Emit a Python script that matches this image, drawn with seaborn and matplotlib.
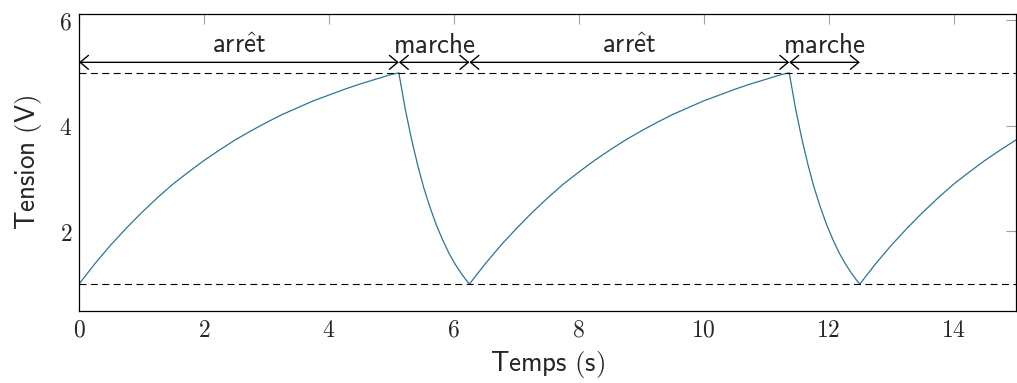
import matplotlib
matplotlib.use("Agg")
import matplotlib.pyplot as plt
import seaborn as sns

# valeurs (temps en s, tension en V)
temps_1 = [0.00, 0.25, 0.50, 0.75, 1.00, 1.25, 1.50, 1.75, 2.00, 2.25, 2.50,
           2.75, 3.00, 3.25, 3.50, 3.75, 4.00, 4.25, 4.50, 4.75, 5.00, 5.12,
           5.22, 5.32, 5.42, 5.52, 5.62, 5.72, 5.82, 5.92, 6.02, 6.12, 6.22, 6.25]
tension_1 = [1.00, 1.38, 1.73, 2.05, 2.35, 2.63, 2.89, 3.12, 3.34, 3.54, 3.73,
             3.90, 4.06, 4.21, 4.34, 4.47, 4.58, 4.69, 4.79, 4.88, 4.97, 5.00,
             4.33, 3.76, 3.26, 2.82, 2.45, 2.12, 1.84, 1.59, 1.38, 1.20, 1.04, 1.00]

temps_2 = [6.25, 6.50, 6.75, 7.00, 7.25, 7.50, 7.75, 8.00, 8.25, 8.50, 8.75,
           9.00, 9.25, 9.50, 9.75, 10.00, 10.25, 10.50, 10.75, 11.00, 11.25, 11.37,
           11.47, 11.57, 11.67, 11.77, 11.87, 11.97, 12.07, 12.17, 12.27, 12.37, 12.47, 12.50]
tension_2 = [1.00, 1.38, 1.73, 2.05, 2.35, 2.63, 2.89, 3.12, 3.34, 3.54, 3.73,
             3.90, 4.06, 4.21, 4.34, 4.47, 4.58, 4.69, 4.79, 4.88, 4.97, 5.00,
             4.33, 3.76, 3.26, 2.82, 2.45, 2.12, 1.84, 1.59, 1.38, 1.20, 1.04, 1.00]

temps_3 = [12.50, 12.75, 13.00, 13.25, 13.50, 13.75, 14.00, 14.25, 14.50, 14.75, 15.00]
tension_3 = [1.00, 1.38, 1.73, 2.05, 2.35, 2.63, 2.89, 3.12, 3.34, 3.54, 3.73]

seuils = [1, 5]
phases = ["arrêt", "marche", "arrêt", "marche"]
bornes = [0, 5.12, 6.25, 11.37, 12.50]
y_fleche = 5.2

xticks = [0, 2, 4, 6, 8, 10, 12, 14]
yticks = [2, 4, 6]

sns.set_style("white")
plt.rcParams["mathtext.fontset"] = "cm"
plt.rcParams["lines.scale_dashes"] = False

couleur = "#2b7597"
fs = 17     # graduations
fs_txt = 19.5  # textes sans serif

fig = plt.figure(figsize=(10.17, 3.83), dpi=100)
ax = fig.add_axes([0.0777, 0.188, 0.9213, 0.7747])

for t, v in [(temps_1, tension_1), (temps_2, tension_2), (temps_3, tension_3)]:
    sns.lineplot(x=t, y=v, ax=ax, color=couleur, lw=0.9, estimator=None, sort=False)

for s in seuils:
    ax.axhline(s, color="black", lw=0.8, dashes=(5, 3.2))

for i, nom in enumerate(phases):
    a, b = bornes[i], bornes[i + 1]
    ax.annotate("", xy=(b, y_fleche), xytext=(a, y_fleche),
                arrowprops=dict(arrowstyle="<->,head_length=0.3,head_width=0.25",
                                color="black", lw=1.0, shrinkA=0, shrinkB=0,
                                mutation_scale=20))
    if "ê" in nom:
        lab = r"$\mathsf{arr\hat{e}t}$"
    else:
        lab = r"$\mathsf{" + nom + "}$"
    ax.text((a + b) / 2, 5.37, lab, ha="center", va="baseline", fontsize=fs_txt)

ax.set_xlim(0, 15)
ax.set_ylim(0.49, 6.11)
ax.set_xticks(xticks)
ax.set_yticks(yticks)
ax.set_xticklabels([f"${v}$" for v in xticks])
ax.set_yticklabels([f"${v}$" for v in yticks])
ax.tick_params(direction="in", length=7, width=0.8, color="#a0a0a0",
               top=True, right=True, labelsize=fs, pad=5)

for sp in ax.spines.values():
    sp.set_color("black")
    sp.set_linewidth(0.9)

ax.set_xlabel(r"$\mathsf{Temps\ (s)}$", fontsize=fs_txt, labelpad=5)
ax.set_ylabel(r"$\mathsf{Tension\ (V)}$", fontsize=fs_txt, labelpad=11)

fig.savefig("out.png", dpi=100)
